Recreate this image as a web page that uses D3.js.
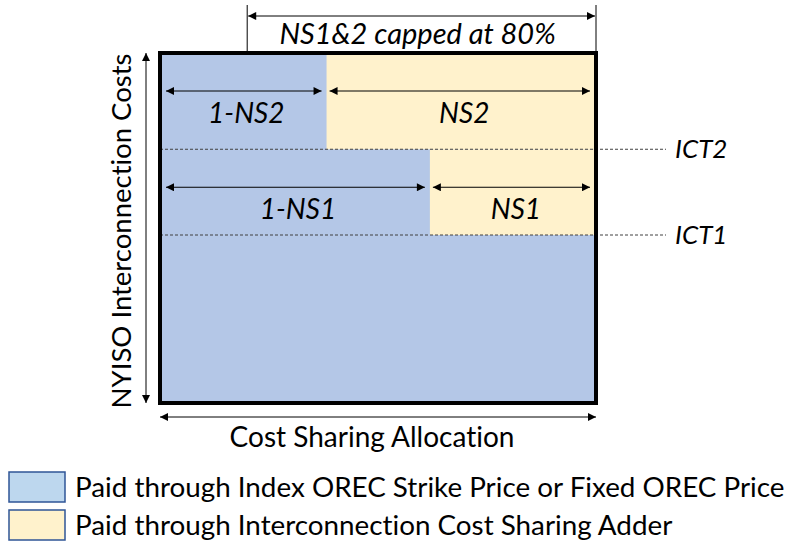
<!DOCTYPE html>
<html><head><meta charset="utf-8">
<script src="https://cdn.jsdelivr.net/npm/d3@7"></script>
<style>body{margin:0;background:#fff}svg{display:block}text{font-family:Lato,"Noto Sans",sans-serif;fill:#000;font-variant-ligatures:none;font-feature-settings:"liga" 0,"clig" 0}</style>
</head><body>
<svg id="c" width="790" height="543"></svg>
<script>
// ---- data ----
const levels = ["ICT1", "ICT2"];            // threshold names
const levelValues = [0.48, 0.725];          // share of total interconnection cost height
const shareNames = ["NS1", "NS2"];          // cost sharing shares
const shareValues = [0.381, 0.618];         // share of allocation width (from the right)
const capValue = 0.8;                        // NS1&2 capped at 80%
const capLabel = "NS1&2 capped at 80%";
const xTitle = "Cost Sharing Allocation";
const yTitle = "NYISO Interconnection Costs";
const legendLabels = ["Paid through Index OREC Strike Price or Fixed OREC Price",
                      "Paid through Interconnection Cost Sharing Adder"];

const blue = "#B4C7E7", yellow = "#FFF2CC";
const svg = d3.select("#c");
const x = d3.scaleLinear().domain([0, 1]).range([160, 596]);
const y = d3.scaleLinear().domain([0, 1]).range([403, 53]);

const defs = svg.append("defs");
defs.append("marker").attr("id", "ah").attr("viewBox", "0 0 10 10")
  .attr("refX", 10).attr("refY", 5).attr("markerWidth", 10).attr("markerHeight", 8)
  .attr("markerUnits", "userSpaceOnUse").attr("orient", "auto-start-reverse")
  .append("path").attr("d", "M0,0L10,5L0,10Z").attr("fill", "#000");

// base blue
svg.append("rect").attr("x", x(0)).attr("y", y(1)).attr("width", x(1) - x(0)).attr("height", y(0) - y(1)).attr("fill", blue);
// yellow bands: NS1 between ICT1 and ICT2, NS2 above ICT2
const bands = [
  {name: shareNames[0], share: shareValues[0], y0: levelValues[0], y1: levelValues[1]},
  {name: shareNames[1], share: shareValues[1], y0: levelValues[1], y1: 1}
];
svg.selectAll("rect.band").data(bands).join("rect").attr("class", "band")
  .attr("x", d => x(1 - d.share)).attr("y", d => y(d.y1))
  .attr("width", d => x(1) - x(1 - d.share)).attr("height", d => y(d.y0) - y(d.y1))
  .attr("fill", yellow);

// dashed level lines
svg.selectAll("line.lvl").data(levelValues).join("line").attr("class", "lvl")
  .attr("x1", x(0)).attr("x2", 666).attr("y1", d => y(d)).attr("y2", d => y(d))
  .attr("stroke", "#404040").attr("stroke-width", 1).attr("stroke-dasharray", "3,2");
svg.selectAll("text.lvl").data(levels).join("text").attr("class", "lvl")
  .attr("x", 675).attr("y", (d, i) => y(levelValues[i]) + 9)
  .attr("font-style", "italic").attr("font-size", 26).text(d => d);

// border
svg.append("rect").attr("x", x(0)).attr("y", y(1)).attr("width", x(1) - x(0)).attr("height", y(0) - y(1))
  .attr("fill", "none").attr("stroke", "#000").attr("stroke-width", 4);

function arrow(x1, y1, x2, y2) {
  svg.append("line").attr("x1", x1).attr("y1", y1).attr("x2", x2).attr("y2", y2)
    .attr("stroke", "#000").attr("stroke-width", 1)
    .attr("marker-start", "url(#ah)").attr("marker-end", "url(#ah)");
}

// inner arrows & labels
bands.forEach(d => {
  const ay = y(d.y1) + 38;
  const split = x(1 - d.share);
  arrow(x(0) + 6, ay, split - 5, ay);
  arrow(split + 3, ay, x(1) - 6, ay);
  svg.append("text").attr("x", (x(0) + split) / 2 + 3).attr("y", ay + 32).attr("text-anchor", "middle")
    .attr("font-style", "italic").attr("font-size", 28).text("1-" + d.name);
  svg.append("text").attr("x", (split + x(1)) / 2 + 3).attr("y", ay + 32).attr("text-anchor", "middle")
    .attr("font-style", "italic").attr("font-size", 28).text(d.name);
});

// cap arrow
const cx0 = x(1 - capValue), cx1 = x(1);
svg.append("line").attr("x1", cx0).attr("x2", cx0).attr("y1", 5).attr("y2", 52).attr("stroke", "#000");
svg.append("line").attr("x1", cx1).attr("x2", cx1).attr("y1", 5).attr("y2", 52).attr("stroke", "#000");
arrow(cx0 + 1, 16, cx1 - 1, 16);
svg.append("text").attr("x", (cx0 + cx1) / 2 - 4).attr("y", 44).attr("text-anchor", "middle")
  .attr("font-style", "italic").attr("font-size", 29).text(capLabel);

// axes arrows
arrow(146, y(1), 146, y(0));
svg.append("text").attr("transform", `translate(131,${(y(0) + y(1)) / 2 + 3}) rotate(-90)`)
  .attr("text-anchor", "middle").attr("font-size", 27.5).text(yTitle);
arrow(x(0), 417, x(1), 417);
svg.append("text").attr("x", (x(0) + x(1)) / 2 - 6).attr("y", 447).attr("text-anchor", "middle")
  .attr("font-size", 28).text(xTitle);

// legend
const lg = svg.selectAll("g.lg").data(legendLabels).join("g").attr("class", "lg")
  .attr("transform", (d, i) => `translate(0,${472 + i * 38})`);
lg.append("rect").attr("x", 9).attr("y", 0).attr("width", 56).attr("height", 30)
  .attr("fill", (d, i) => i === 0 ? "#BDD7EE" : yellow).attr("stroke", "#2F5597").attr("stroke-width", 1.5);
lg.append("text").attr("x", 75).attr("y", 25).attr("font-size", 27.8).text(d => d);
</script>
</body></html>
